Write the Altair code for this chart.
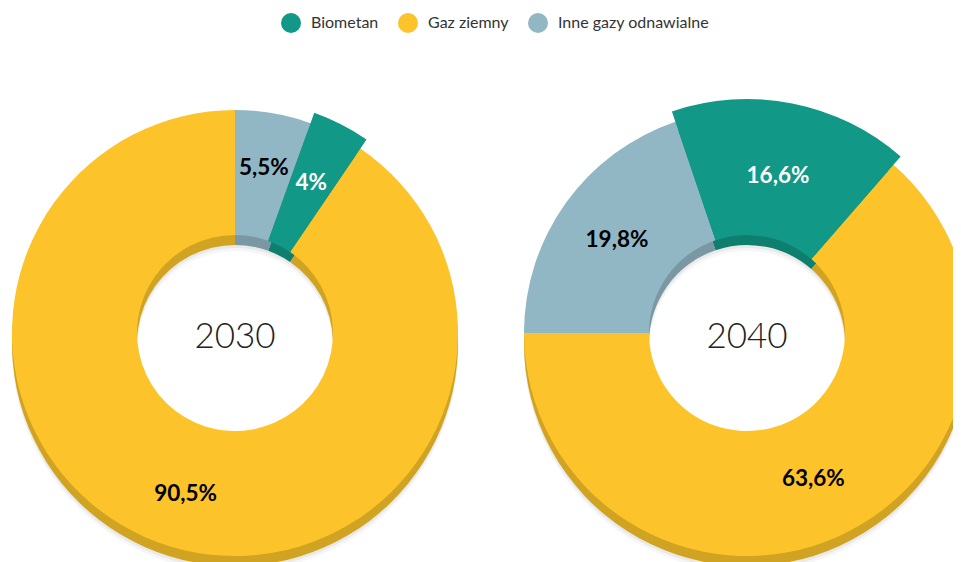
import math
import altair as alt
import pandas as pd

# ---- data ----
categories = ["Biometan", "Gaz ziemny", "Inne gazy odnawialne"]
years = ["2030", "2040"]
values_2030 = [4.0, 90.5, 5.5]
values_2040 = [16.6, 63.6, 19.8]
clockwise_order = [1, 2, 0]  # Inne first, then Biometan, then Gaz ziemny

colors = ["#119886", "#FCC42A", "#92B7C4"]
start_angle = {"2030": 0.0, "2040": -math.pi / 2}
label_radius = {"2030": 168, "2040": 160}


def fmt(v):
    return f"{v:g}".replace(".", ",") + "%"


rows = []
for y, vals in zip(years, [values_2030, values_2040]):
    for c, v, o in zip(categories, vals, clockwise_order):
        rows.append({"year": y, "source": c, "value": v, "order": o, "label": fmt(v)})
df = pd.DataFrame(rows)
df_years = pd.DataFrame({"year": years})

CX = alt.X("year:N", scale=alt.Scale(type="point", domain=years, range=[227, 739], padding=0), axis=None)
CY = alt.value(325)
R_IN, R_OUT, R_BIO = 98, 223, 234
DEPTH = 10

color_enc = alt.Color(
    "source:N",
    scale=alt.Scale(domain=categories, range=colors),
    legend=alt.Legend(
        title=None, orient="none", legendX=273, legendY=5, direction="horizontal",
        symbolType="circle", symbolSize=400, symbolStrokeWidth=0,
        labelFont="Lato", labelFontSize=16, labelColor="#333333",
        columnPadding=19, labelOffset=10,
    ),
)


def base(y):
    a0 = start_angle[y]
    return (
        alt.Chart(df)
        .transform_filter(alt.datum.year == y)
        .transform_stack(stack="value", groupby=["year"], as_=["s0", "s1"],
                         sort=[alt.SortField("order", order="ascending")])
        .transform_calculate(mid="(datum.s0 + datum.s1) / 2")
    ), alt.Scale(domain=[0, 100], range=[a0, a0 + 2 * math.pi])


layers_shadow, layers_dark, layers_front, layers_text = [], [], [], []
for y in years:
    b, tscale = base(y)
    th = alt.Theta("s0:Q", scale=tscale, stack=None)
    th2 = alt.Theta2("s1:Q")
    bio = b.transform_filter(alt.datum.source == "Biometan")
    for off, op in [(16, 0.05), (13, 0.08)]:
        layers_shadow.append(
            b.mark_arc(innerRadius=R_IN, outerRadius=R_OUT, yOffset=off, color="#555555", opacity=op)
            .encode(x=CX, y=CY, theta=th, theta2=th2)
        )
    layers_dark.append(
        b.mark_arc(innerRadius=R_IN, outerRadius=R_OUT, yOffset=DEPTH)
        .encode(x=CX, y=CY, theta=th, theta2=th2, color=color_enc)
    )
    layers_dark.append(
        b.mark_arc(innerRadius=R_IN, outerRadius=R_OUT, yOffset=DEPTH, color="black", opacity=0.17)
        .encode(x=CX, y=CY, theta=th, theta2=th2)
    )
    layers_front.append(
        b.mark_arc(innerRadius=R_IN, outerRadius=R_OUT)
        .encode(x=CX, y=CY, theta=th, theta2=th2, color=color_enc)
    )
    layers_front.append(
        bio.mark_arc(innerRadius=R_IN, outerRadius=R_BIO)
        .encode(x=CX, y=CY, theta=th, theta2=th2, color=color_enc)
    )
    layers_text.append(
        b.mark_text(radius=label_radius[y], font="Lato", fontSize=22.5, fontWeight="bold")
        .encode(
            x=CX, y=CY,
            theta=alt.Theta("mid:Q", scale=tscale, stack=None),
            text="label:N",
            color=alt.condition(alt.datum.source == "Biometan", alt.value("white"), alt.value("black")),
        )
    )

center = (
    alt.Chart(df_years)
    .mark_text(font="Lato", fontSize=35, fontWeight=300, color="#222222", baseline="middle")
    .encode(x=CX, y=alt.value(329), text="year:N")
)

chart = (
    alt.layer(*layers_shadow, *layers_dark, *layers_front, *layers_text, center)
    .resolve_scale(theta="independent")
    .properties(width=945, height=554, padding=0, autosize=alt.AutoSizeParams(type="none"))
    .configure_view(stroke=None)
)

chart.save("out.html", embed_options={"renderer": "svg", "actions": False})
